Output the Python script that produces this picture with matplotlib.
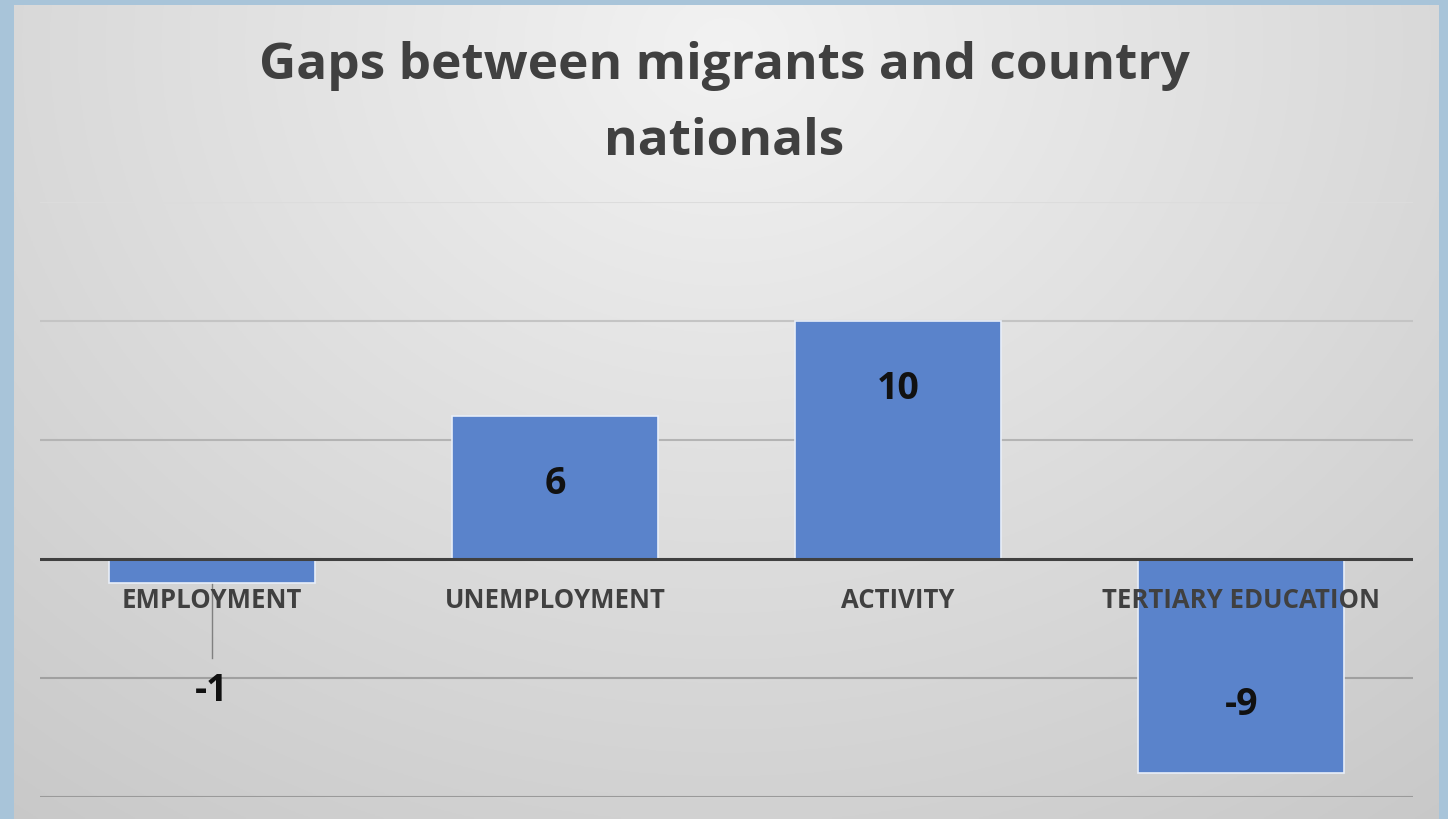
import matplotlib.pyplot as plt
import numpy as np

categories = ["EMPLOYMENT", "UNEMPLOYMENT", "ACTIVITY", "TERTIARY EDUCATION"]
gaps = [-1, 6, 10, -9]
title = "Gaps between migrants and country\nnationals"

W, H, DPI = 1448, 819, 100
fig = plt.figure(figsize=(W / DPI, H / DPI), dpi=DPI)
fig.patch.set_facecolor("#a8c4d9")

# chart panel with a soft radial grey gradient
bg = fig.add_axes([14 / W, 0, (1439 - 14) / W, (H - 5) / H])
yy, xx = np.mgrid[0:1:300j, 0:1:600j]
r = np.sqrt(((xx - 0.5) / 0.75) ** 2 + ((yy - 0.05) / 1.1) ** 2)
shade = np.clip(0.95 - 0.15 * r, 0.78, 0.96)
bg.imshow(np.dstack([shade] * 3), aspect="auto", extent=[0, 1, 1, 0])
bg.set_axis_off()

ax = fig.add_axes([40 / W, (H - 797) / H, (1413 - 40) / W, (797 - 202) / H])
ax.patch.set_alpha(0)
x = np.arange(len(categories))
ax.set_xlim(-0.5, 3.5)
ax.set_ylim(-10, 15)
for v, c in [(15, "#dcdcdc"), (10, "#c4c4c4"), (5, "#b4b4b4"), (-5, "#a0a0a0"), (-10, "#9a9a9a")]:
    ax.axhline(v, color=c, lw=1.5, zorder=0)

ax.bar(x, gaps, width=0.6, color="#5a83cb", edgecolor="#e8eef8", linewidth=1.2, zorder=2)
ax.axhline(0, color="#404040", lw=2.2, zorder=3)

for xi, cat in zip(x, categories):
    ax.text(xi, -1.75, cat, ha="center", va="center", fontsize=18.5,
            fontweight="bold", color="#404040", family="Open Sans", zorder=4)

for xi, v in zip(x, gaps):
    if abs(v) < 2:
        # small bar: label pulled below with a leader line
        ly = -5.55
        ax.plot([xi, xi], [v + 0.05, ly + 1.4], color="#808080", lw=1, zorder=1)
    else:
        ly = v - np.sign(v) * 2.85
    ax.text(xi, ly, f"{v}", ha="center", va="center", fontsize=27,
            fontweight="bold", color="#111111", family="Open Sans", zorder=4)

ax.set_axis_off()

fig.text(0.5, 0.873, title, ha="center", va="center", fontsize=37,
         fontweight="bold", color="#404040", family="Open Sans", linespacing=1.68)

fig.savefig("out.png", dpi=DPI, facecolor=fig.get_facecolor())
